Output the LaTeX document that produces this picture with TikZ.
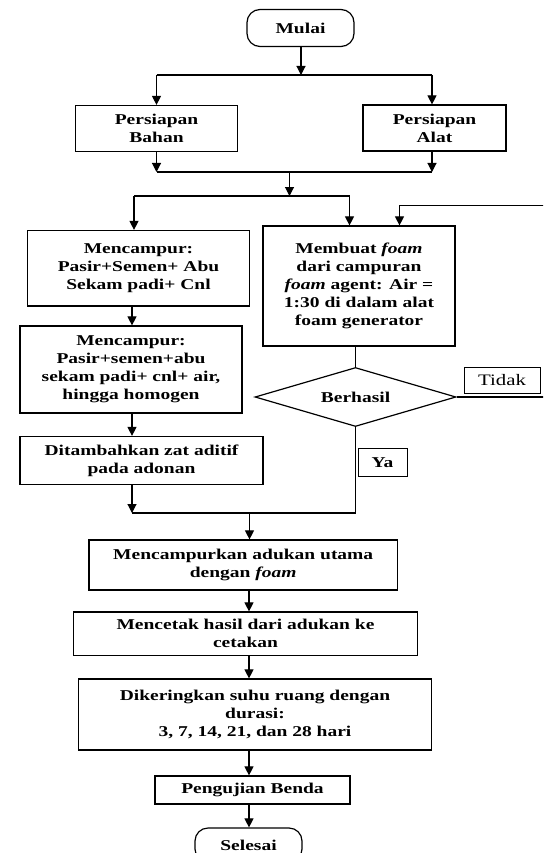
\documentclass[tikz,border=0pt]{standalone}
\usepackage{fontspec}
\setmainfont{Liberation Serif}[FakeStretch=1.3]
\usetikzlibrary{arrows.meta,shapes.geometric}
\tikzset{
  box/.style={draw, line width=1.2pt, rectangle, inner sep=0pt, align=center,
    font=\fontsize{15}{18}\selectfont\bfseries},
  term/.style={box, rounded corners=13pt},
  arr/.style={-{Triangle[length=9pt,width=9pt]}, line width=1.1pt},
  ln/.style={line width=1.1pt},
}
\begin{document}
\begin{tikzpicture}[x=1pt,y=-1pt]
\clip (0,0) rectangle (543,853);
\fill[white] (0,0) rectangle (543,853);
% nodes
\node[term, minimum width=107pt, minimum height=37pt] (mulai) at (300.5,28) {Mulai};
\node[box, minimum width=162pt, minimum height=46pt] (bahan) at (156.5,128.5) {Persiapan\\Bahan};
\node[box, minimum width=143pt, minimum height=46pt] (alat) at (434.5,128) {Persiapan\\Alat};
\node[box, minimum width=222pt, minimum height=75.5pt] (mix1) at (138.5,268.25) {Mencampur:\\Pasir+Semen+ Abu\\Sekam padi+ Cnl};
\node[box, minimum width=192pt, minimum height=120pt] (foam) at (359,286) {Membuat \textit{foam}\\dari campuran\\\textit{foam} agent: Air =\\1:30 di dalam alat\\foam generator};
\node[box, minimum width=222pt, minimum height=87pt] (mix2) at (131,369.5) {Mencampur:\\Pasir+semen+abu\\sekam padi+ cnl+ air,\\hingga homogen};
\node[box, diamond, aspect=3.4, minimum width=201pt, minimum height=59pt] (diam) at (355.5,397) {Berhasil};
\node[box, line width=1pt, minimum width=76pt, minimum height=26pt, font=\fontsize{16}{18}\selectfont] (tidak) at (502,380) {Tidak};
\node[box, line width=1pt, minimum width=49pt, minimum height=28pt] (ya) at (382.5,462.5) {Ya};
\node[box, minimum width=243pt, minimum height=48pt] (adit) at (141.5,460.5) {Ditambahkan zat aditif\\pada adonan};
\node[box, minimum width=308.5pt, minimum height=50pt] (utama) at (243.25,565) {Mencampurkan adukan utama\\dengan \textit{foam}};
\node[box, minimum width=344pt, minimum height=43.5pt] (cetak) at (245.5,633.75) {Mencetak hasil dari adukan ke\\cetakan};
\node[box, minimum width=353.5pt, minimum height=71pt] (kering) at (255,714.5) {Dikeringkan suhu ruang dengan\\durasi:\\3, 7, 14, 21, dan 28 hari};
\node[box, minimum width=195pt, minimum height=28pt] (uji) at (252.5,790) {Pengujian Benda};
\node[term, minimum width=107pt, minimum height=34pt] (selesai) at (248.5,845) {Selesai};
% junction coordinates
\coordinate (j1) at (301,75);
\coordinate (al) at (432,75);
\coordinate (j2) at (289.5,172);
\coordinate (j3) at (289.5,196);
\coordinate (a1) at (134,196);
\coordinate (a2) at (349.5,196);
\coordinate (lp) at (399.5,205.5);
\coordinate (c132) at (132,0);
\coordinate (j4) at (132,513);
\coordinate (j5) at (249.5,513);
\coordinate (cx) at (249,0);
% connectors
\draw[arr] (mulai.south -| j1) -- (j1);
\draw[ln] (bahan.north |- j1) -- (al);
\draw[arr] (bahan.north |- j1) -- (bahan.north);
\draw[arr] (al) -- (al |- alat.north);
\draw[arr] (bahan.south) -- (bahan.south |- j2);
\draw[arr] (al |- alat.south) -- (al |- j2);
\draw[ln] (bahan.south |- j2) -- (al |- j2);
\draw[arr] (j2) -- (j3);
\draw[ln] (a1) -- (a2);
\draw[arr] (a1) -- (a1 |- mix1.north);
\draw[arr] (a2) -- (a2 |- foam.north);
\draw[arr] (diam.east) -- (560,397) |- (lp) -- (lp |- foam.north);
\draw[arr] (mix1.south -| c132) -- (mix2.north -| c132);
\draw[ln] (foam.south -| diam.north) -- (diam.north);
\draw[arr] (mix2.south -| c132) -- (adit.north -| c132);
\draw[arr] (adit.south -| j4) -- (j4);
\draw[ln] (diam.south) -- (diam.south |- j4) -- (j4);
\draw[arr] (j5) -- (j5 |- utama.north);
\draw[arr] (utama.south -| cx) -- (cetak.north -| cx);
\draw[arr] (cetak.south -| cx) -- (kering.north -| cx);
\draw[arr] (kering.south -| cx) -- (uji.north -| cx);
\draw[arr] (uji.south -| cx) -- (selesai.north -| cx);
\end{tikzpicture}
\end{document}
